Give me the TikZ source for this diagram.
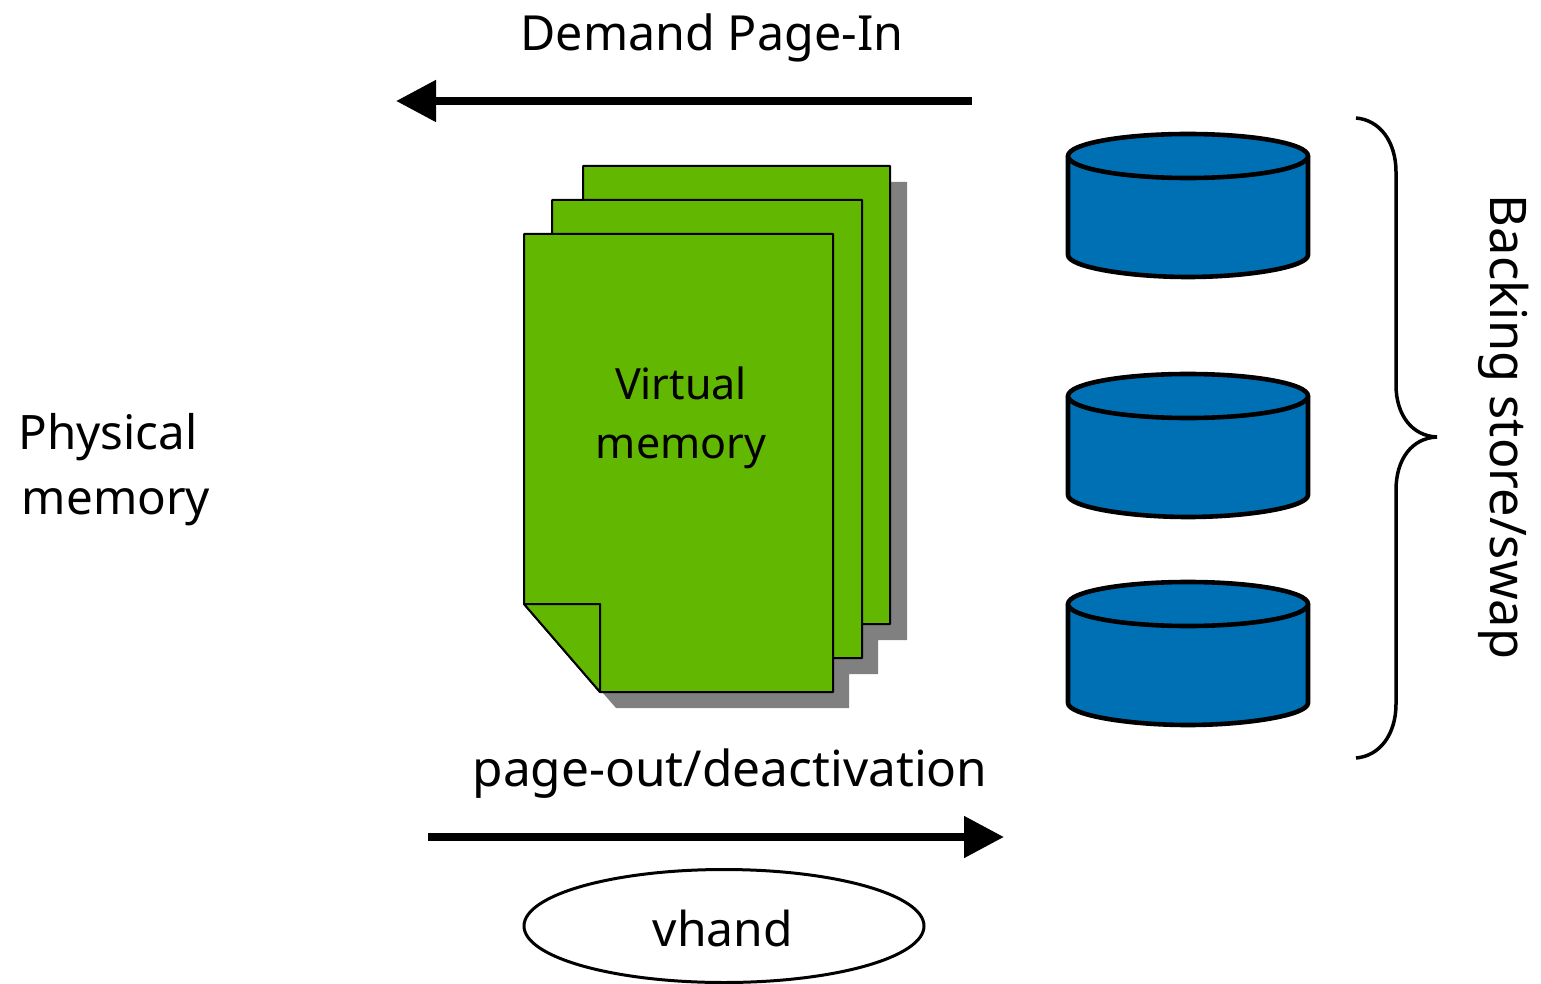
\documentclass[tikz,border=0pt]{standalone}
\usepackage{fontspec}
\setmainfont{Noto Sans}
\usetikzlibrary{arrows.meta,shapes.geometric}
\definecolor{pagegreen}{HTML}{62B700}
\definecolor{diskblue}{HTML}{0070B5}
\definecolor{shadowgray}{HTML}{808080}
\tikzset{
  lbl/.style={font=\fontsize{#1}{65}\selectfont,text=black,inner sep=0pt,align=center},
  lbl/.default=49,
  sheet/.style={draw=black,line width=2pt,fill=pagegreen,line join=round},
  shade/.style={fill=shadowgray},
  disk/.style={draw=black,line width=4.6pt,fill=diskblue,line join=round},
  flow/.style={line width=8pt,-{Triangle[length=40pt,width=40pt]}},
  brace/.style={draw=black,line width=3.5pt},
  oval/.style={draw=black,line width=3pt,ellipse,minimum width=400pt,minimum height=113pt,inner sep=0pt}
}
\newcommand{\diskat}[1]{%
  \path[disk] (1068,#1) -- (1068,#1+99) .. controls (1068,#1+111) and (1128,#1+121) .. (1188,#1+121)
     .. controls (1248,#1+121) and (1308,#1+111) .. (1308,#1+99) -- (1308,#1) -- cycle;
  \path[disk] (1188,#1) ellipse [x radius=120, y radius=22];
}
\begin{document}
\begin{tikzpicture}[x=1pt,y=-1pt]
\useasboundingbox (0,0) rectangle (1541,984);
% shadows
\fill[shade] (599,182) -- (907,182) -- (907,640) -- (878,640) -- (878,674) -- (849,674) -- (849,708) -- (616,708) -- (602,692) -- cycle;
% pages
\path[sheet] (583,166) -- (890,166) -- (890,624) -- (659,624) -- (583,536) -- cycle;
\path[sheet] (552,200) -- (862,200) -- (862,658) -- (628,658) -- (552,570) -- cycle;
\path[sheet] (524,234) -- (833,234) -- (833,692) -- (600,692) -- (524,604) -- cycle;
\path[sheet] (524,604) -- (600,604) -- (600,692) -- cycle;
% disks
\diskat{156}
\diskat{396}
\diskat{604}
% brace
\path[brace] (1356,118) .. controls (1380,120) and (1396,142) .. (1396,172) -- (1396,385)
  .. controls (1396,415) and (1412,436) .. (1437,437)
  .. controls (1412,438) and (1396,459) .. (1396,490) -- (1396,704)
  .. controls (1396,734) and (1380,756) .. (1356,758);
% labels
\node[lbl=48.4] (demand) at (712,38) {Demand Page-In};
\node[lbl=49.6] (pageout) at (730,774) {page-out/deactivation};
\node[lbl=43,font=\fontsize{43}{59}\selectfont] (virtual) at (681,418) {Virtual\\memory};
\node[lbl=47.5] (physical) at (112,470) {Physical\hspace*{8pt}\\\hspace*{8pt}memory};
\node[lbl=50.5,rotate=-90] (backing) at (1504,427) {Backing store/swap};
\node[oval] (vhand) at (724,926) {};
\node[lbl=48] (vhandtext) at (723,928) {vhand};
% arrows
\coordinate (a1) at (972,101);
\coordinate (a2) at (396,101);
\coordinate (b1) at (428,837);
\coordinate (b2) at (1004,837);
\draw[flow] (a1) -- (a2);
\draw[flow] (b1) -- (b2);
\end{tikzpicture}
\end{document}
